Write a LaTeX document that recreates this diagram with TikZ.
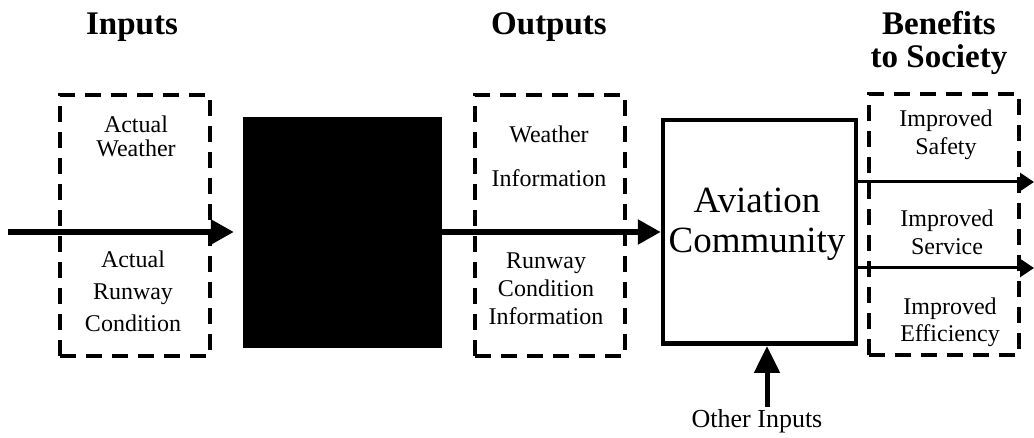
\documentclass[tikz,border=0pt]{standalone}
\usepackage{fontspec}
\setmainfont{Liberation Serif}
\usetikzlibrary{arrows.meta}

\newcommand{\groupBoxWidth}{150pt}
\newcommand{\groupBoxHeight}{261pt}
\newcommand{\bodyFont}[1]{\fontsize{24}{#1}\selectfont}

\begin{document}
\begin{tikzpicture}[x=1pt,y=-1pt]
\tikzstyle{groupBox}=[draw,line width=4pt,dash pattern=on 16pt off 10pt,minimum width=\groupBoxWidth,minimum height=\groupBoxHeight,inner sep=0pt]
\tikzstyle{bodyText}=[align=center,anchor=base,inner sep=0pt]
\tikzstyle{headText}=[align=center,anchor=base,inner sep=0pt,font=\fontsize{33}{33}\selectfont\bfseries]
\tikzstyle{flowArrow}=[line width=5.5pt,-{Triangle[length=23pt,width=24pt]}]
\tikzstyle{benefitArrow}=[line width=3pt,-{Triangle[length=14pt,width=18pt]}]
\useasboundingbox (0,0) rectangle (1034,438);
% column headings (base = baseline of the last line)
\node[headText] (inHead) at (132,35) {Inputs};
\node[headText] (outHead) at (549,35) {Outputs};
\node[headText] (benHead) at (939,68) {Benefits\\to Society};
% boxes
\node[groupBox] (inBox) at (134.5,225.5) {};
\node[groupBox] (outBox) at (550,225.5) {};
\node[groupBox] (benBox) at (943.5,225) {};
\node[fill=black,minimum width=199pt,minimum height=231pt,inner sep=0pt] (blackBox) at (342.5,232.5) {};
\node[draw,line width=4.5pt,minimum width=193pt,minimum height=223.5pt,inner sep=0pt] (avBox) at (759.5,232) {};
% box texts
\node[bodyText,font=\bodyFont{24}] (inWeather) at (136,157) {Actual\\Weather};
\node[bodyText,font=\bodyFont{32}] (inRunway) at (133,332) {Actual\\Runway\\Condition};
\node[bodyText,font=\bodyFont{44}] (outWeather) at (549,187) {Weather\\Information};
\node[bodyText,font=\bodyFont{28}] (outRunway) at (546,325) {Runway\\Condition\\Information};
\node[bodyText,font=\fontsize{37}{40}\selectfont] (avText) at (757,253) {Aviation\\Community};
\node[bodyText,font=\bodyFont{28}] (benSafety) at (946,155) {Improved\\Safety};
\node[bodyText,font=\bodyFont{28}] (benService) at (947,255) {Improved\\Service};
\node[bodyText,font=\bodyFont{27}] (benEfficiency) at (950,342) {Improved\\Efficiency};
\node[bodyText,font=\fontsize{26}{28}\selectfont] (otherText) at (757,428) {Other Inputs};
% connectors
\coordinate (inStart) at (8,232);
\coordinate (safetyEnd) at (1034,182);
\coordinate (serviceEnd) at (1034,268);
\coordinate (otherStart) at (767,407);
\draw[flowArrow,shorten >=9pt] (inStart) -- (inStart -| blackBox.west);
\draw[flowArrow] (blackBox.east |- inStart) -- (avBox.west |- inStart);
\draw[benefitArrow] (avBox.east |- safetyEnd) -- (safetyEnd);
\draw[benefitArrow] (avBox.east |- serviceEnd) -- (serviceEnd);
\draw[line width=5pt,-{Triangle[length=27pt,width=25pt]}] (otherStart) -- (otherStart |- avBox.south);
\end{tikzpicture}
\end{document}
